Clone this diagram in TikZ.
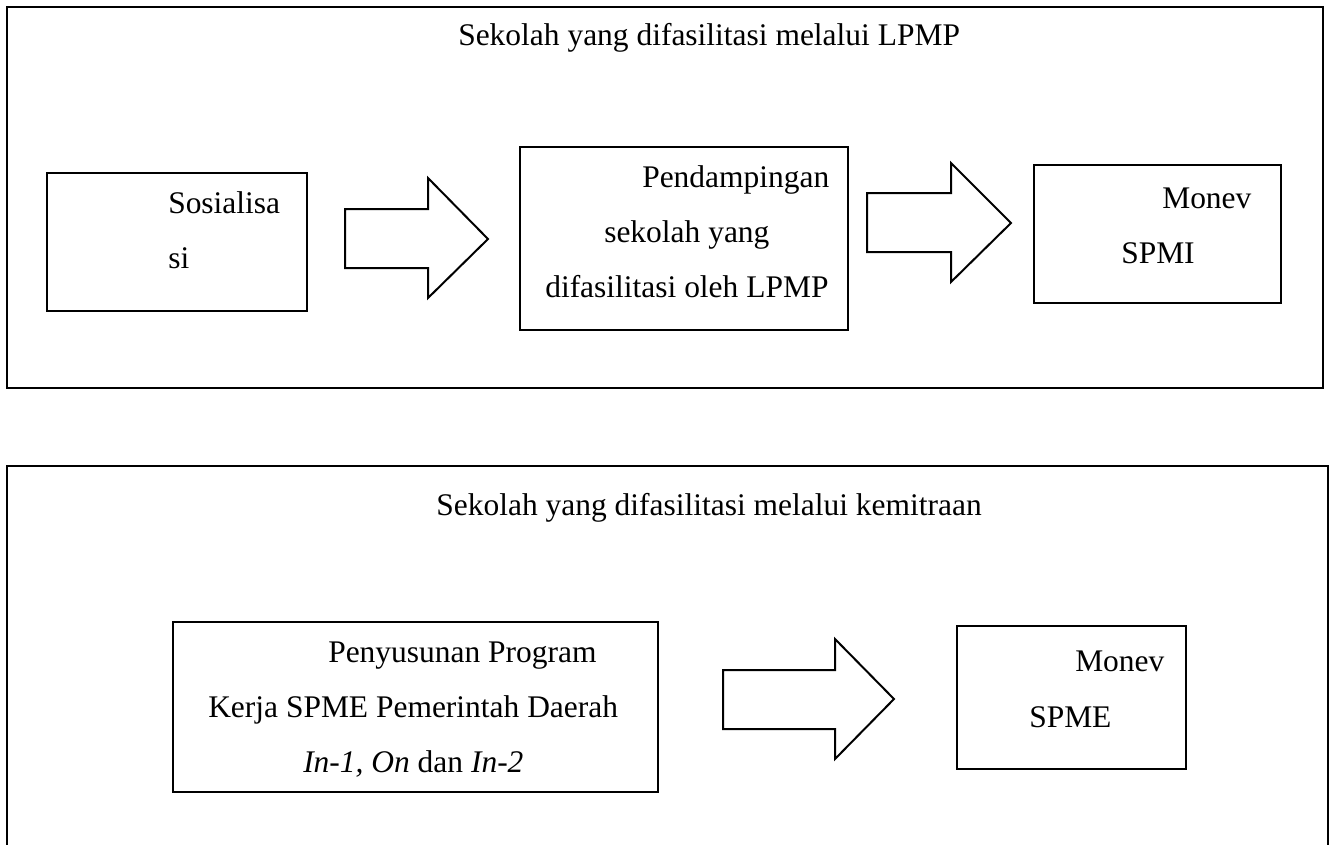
\documentclass[tikz,border=0pt]{standalone}
\usepackage{fontspec}
\setmainfont{Liberation Serif}
\begin{document}
\begin{tikzpicture}[x=0.75pt,y=-0.75pt,
  frame/.style={line width=2pt},
  box/.style={line width=1.5pt},
  blockarrow/.style={line width=1.5pt, line join=miter},
  txt/.style={anchor=base west, inner sep=0pt, font=\fontsize{23.6}{28}\selectfont},
  ctxt/.style={anchor=base, inner sep=0pt, font=\fontsize{23.6}{28}\selectfont}]
\useasboundingbox (0,0) rectangle (1329,844);
\fill[white] (0,0) rectangle (1329,844);
\clip (0,0) rectangle (1329,844);
% outer frames
\draw[frame] (7,7) rectangle (1323,388);
\draw[frame] (7,466) rectangle (1328,900);
% titles
\node[txt] (t1) at (458,45) {Sekolah yang difasilitasi melalui LPMP};
\node[ctxt] (t2) at (709,515) {Sekolah yang difasilitasi melalui kemitraan};
% top row boxes
\draw[box] (47,173) rectangle (307,311);
\node[txt] (sos1) at (168,213) {Sosialisa};
\node[txt] (sos2) at (168,268) {si};
\draw[box] (520,147) rectangle (848,330);
\node[txt] (pd1) at (642,187) {Pendampingan};
\node[txt] (pd2) at (604,242) {sekolah yang};
\node[txt] (pd3) at (545,297) {difasilitasi oleh LPMP};
\draw[box] (1034,165) rectangle (1281,303);
\node[txt] (mi1) at (1162,208) {Monev};
\node[txt] (mi2) at (1121,263) {SPMI};
% block arrows top
\draw[blockarrow] (345,209) -- (428,209) -- (428,178) -- (488,239) -- (428,298) -- (428,268) -- (345,268) -- cycle;
\draw[blockarrow] (867,193) -- (951,193) -- (951,163) -- (1011,223) -- (951,282) -- (951,252) -- (867,252) -- cycle;
% bottom row
\draw[box] (173,622) rectangle (658,792);
\node[txt] (pr1) at (328,662) {Penyusunan Program};
\node[txt] (pr2) at (208,717) {Kerja SPME Pemerintah Daerah};
\node[txt] (pr3) at (303,772) {\textit{In-1, On} dan \textit{In-2}};
\draw[box] (957,626) rectangle (1186,769);
\node[txt] (me1) at (1075,671) {Monev};
\node[txt] (me2) at (1029,727) {SPME};
\draw[blockarrow] (723,670) -- (835,670) -- (835,639) -- (894,699) -- (835,759) -- (835,729) -- (723,729) -- cycle;
\end{tikzpicture}
\end{document}
